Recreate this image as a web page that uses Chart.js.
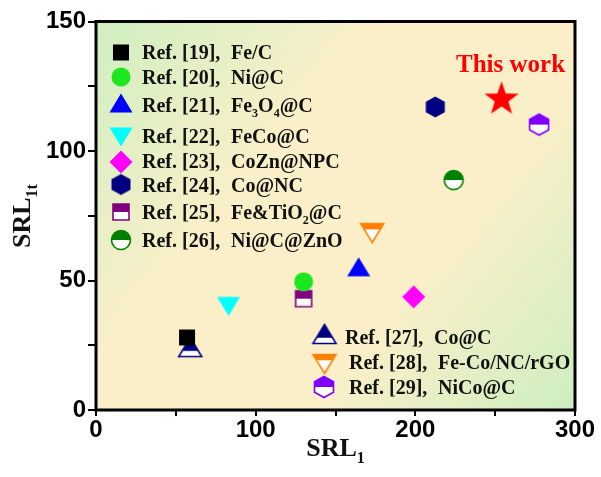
<!DOCTYPE html>
<html><head><meta charset="utf-8">
<script src="https://cdn.jsdelivr.net/npm/chart.js@4.4.1/dist/chart.umd.min.js"></script>
<style>html,body{margin:0;padding:0;background:#fff}#wrap{width:601px;height:477px}</style>
</head><body><div id="wrap"><canvas id="c" width="601" height="477"></canvas></div>
<script>
// ---- data ----
const refLabels = ['Ref. [19],','Ref. [20],','Ref. [21],','Ref. [22],','Ref. [23],','Ref. [24],','Ref. [25],','Ref. [26],','Ref. [27],','Ref. [28],','Ref. [29],','This work'];
const materials = ['Fe/C','Ni@C','Fe_{3}O_{4}@C','FeCo@C','CoZn@NPC','Co@NC','Fe&TiO_{2}@C','Ni@C@ZnO','Co@C','Fe-Co/NC/rGO','NiCo@C',''];
const srl1  = [57, 130, 164.5, 83, 199, 212.5, 130, 224, 59, 173, 277.5, 254];
const srl1t = [28, 49.5, 55.3, 40, 43.7, 117, 43, 88.8, 24.3, 68.3, 110.2, 120];
const xTickLabels = [0, 100, 200, 300];
const yTickLabels = [0, 50, 100, 150];
const xTitle = 'SRL_{1}';
const yTitle = 'SRL_{1t}';

// ---- styles ----
const colors = ['#000000','#1ee61e','#0000ff','#00ffff','#ff00ff','#000080','#800080','#008000','#000080','#ff8000','#8000ff','#ff0000'];
const shapes = ['square','circle','triUp','triDown','diamond','hexagon','square','circle','triUp','triDown','hexagon','star'];
const fills  = ['full','full','full','full','full','full','half','half','half','half','half','full'];

function markerPath(ctx, shape, cx, cy){
  ctx.beginPath();
  if(shape==='square'){ ctx.rect(cx-8,cy-8,16,16); }
  else if(shape==='circle'){ ctx.arc(cx,cy,9.5,0,Math.PI*2); }
  else if(shape==='triUp'){ ctx.moveTo(cx,cy-9.5); ctx.lineTo(cx+11.5,cy+9.5); ctx.lineTo(cx-11.5,cy+9.5); ctx.closePath(); }
  else if(shape==='triDown'){ ctx.moveTo(cx,cy+9.5); ctx.lineTo(cx+11.5,cy-9.5); ctx.lineTo(cx-11.5,cy-9.5); ctx.closePath(); }
  else if(shape==='diamond'){ ctx.moveTo(cx,cy-11.5); ctx.lineTo(cx+11.5,cy); ctx.lineTo(cx,cy+11.5); ctx.lineTo(cx-11.5,cy); ctx.closePath(); }
  else if(shape==='hexagon'){ const w=9.5,h=10.5; ctx.moveTo(cx,cy-h); ctx.lineTo(cx+w,cy-h/2); ctx.lineTo(cx+w,cy+h/2); ctx.lineTo(cx,cy+h); ctx.lineTo(cx-w,cy+h/2); ctx.lineTo(cx-w,cy-h/2); ctx.closePath(); }
  else if(shape==='star'){ const R=18, r=R*0.40; for(let i=0;i<10;i++){ const a=-Math.PI/2+i*Math.PI/5; const rr=i%2?r:R; const px=cx+rr*Math.cos(a), py=cy+rr*Math.sin(a); if(i===0) ctx.moveTo(px,py); else ctx.lineTo(px,py);} ctx.closePath(); }
}
function splitY(shape, cy){
  if(shape==='triUp') return cy + 9.5/3 + 0.5;
  if(shape==='triDown') return cy - 9.5/3 - 0.5;
  return cy;
}
function makeMarker(shape,color,fill){
  const S=44, c=document.createElement('canvas'); c.width=S; c.height=S;
  const ctx=c.getContext('2d'); const cx=S/2, cy=S/2;
  if(fill==='full'){ markerPath(ctx,shape,cx,cy); ctx.fillStyle=color; ctx.fill(); }
  else {
    markerPath(ctx,shape,cx,cy); ctx.fillStyle='#ffffff'; ctx.fill();
    ctx.save(); ctx.beginPath(); ctx.rect(0,0,S,splitY(shape,cy)); ctx.clip();
    markerPath(ctx,shape,cx,cy); ctx.fillStyle=color; ctx.fill(); ctx.restore();
    markerPath(ctx,shape,cx,cy); ctx.strokeStyle=color; ctx.lineWidth=1.6; ctx.stroke();
  }
  return c;
}
const markerImgs = shapes.map((s,i)=>makeMarker(s,colors[i],fills[i]));

// rich text with _{sub}
function parseRich(str){
  const segs=[]; let re=/_\{([^}]*)\}/g, last=0, m;
  while((m=re.exec(str))){ if(m.index>last) segs.push({t:str.slice(last,m.index),sub:false}); segs.push({t:m[1],sub:true}); last=re.lastIndex; }
  if(last<str.length) segs.push({t:str.slice(last),sub:false});
  return segs;
}
function richWidth(ctx,str,size,family){
  let w=0; for(const s of parseRich(str)){ ctx.font='bold '+(s.sub?Math.round(size*0.62):size)+'px '+family; w+=ctx.measureText(s.t).width; } return w;
}
function drawRich(ctx,str,x,y,size,family,align){
  let w=richWidth(ctx,str,size,family);
  let px = align==='center'? x-w/2 : x;
  ctx.textBaseline='alphabetic'; ctx.textAlign='left';
  for(const s of parseRich(str)){
    const fs = s.sub?Math.round(size*0.62):size;
    ctx.font='bold '+fs+'px '+family;
    ctx.fillText(s.t, px, y + (s.sub? size*0.26 : 0));
    px += ctx.measureText(s.t).width;
  }
}
const SERIF='"Liberation Serif","Times New Roman",serif';

// legend layout
const legendRows = [
  {i:0,mx:121,my:52.5,ty:52,tx:142,mtx:231},
  {i:1,mx:121,my:77,ty:77.5,tx:142,mtx:231},
  {i:2,mx:121,my:103,ty:105,tx:142,mtx:231},
  {i:3,mx:121,my:137,ty:136,tx:142,mtx:231},
  {i:4,mx:121,my:162,ty:161,tx:142,mtx:231},
  {i:5,mx:121,my:184.5,ty:185,tx:142,mtx:231},
  {i:6,mx:121,my:212,ty:212,tx:142,mtx:231},
  {i:7,mx:121,my:240,ty:240,tx:142,mtx:231},
  {i:8,mx:324.5,my:334,ty:337,tx:345,mtx:434},
  {i:9,mx:324.5,my:364,ty:362,tx:349,mtx:438},
  {i:10,mx:324,my:387,ty:387,tx:349,mtx:438}
];

const bgPlugin = {
  id:'bg',
  beforeDatasetsDraw(chart){
    const {ctx, chartArea:a} = chart;
    const g = ctx.createLinearGradient(a.left,a.top,a.right,a.bottom);
    g.addColorStop(0,'#cfefc1'); g.addColorStop(0.36,'#fbefc9'); g.addColorStop(0.66,'#fbefc9'); g.addColorStop(1,'#cdeec0');
    ctx.save(); ctx.fillStyle=g; ctx.fillRect(a.left,a.top,a.right-a.left,a.bottom-a.top); ctx.restore();
  },
  afterDraw(chart){
    const {ctx, chartArea:a, scales} = chart;
    ctx.save();
    ctx.strokeStyle='#000'; ctx.lineWidth=3; ctx.strokeRect(a.left,a.top,a.right-a.left,a.bottom-a.top);
    for(const r of legendRows){
      const img=markerImgs[r.i];
      ctx.drawImage(img, r.mx-img.width/2, r.my-img.height/2);
      ctx.fillStyle='#111';
      drawRich(ctx, refLabels[r.i], r.tx, r.ty+6.5, 20, SERIF, 'left');
      drawRich(ctx, materials[r.i], r.mtx, r.ty+6.5, 20, SERIF, 'left');
    }
    const sx = scales.x.getPixelForValue(srl1[11]), sy = scales.y.getPixelForValue(srl1t[11]);
    ctx.fillStyle='#ff0000';
    drawRich(ctx, refLabels[11], sx+9, sy-27, 25, SERIF, 'center');
    ctx.fillStyle='#111';
    drawRich(ctx, xTitle, (a.left+a.right)/2, 456, 26, SERIF, 'center');
    ctx.translate(30, 216); ctx.rotate(-Math.PI/2);
    drawRich(ctx, yTitle, 0, 0, 26, SERIF, 'center');
    ctx.restore();
  }
};

const datasets = srl1.map((x,i)=>({
  label: refLabels[i]+' '+materials[i],
  data:[{x:x,y:srl1t[i]}],
  pointStyle: markerImgs[i],
  pointRadius: 10, pointHoverRadius: 10,
  showLine:false
}));

const tickFont = {family:'"Liberation Sans", Arial, sans-serif', size:24, weight:'bold'};
new Chart(document.getElementById('c'), {
  type:'scatter',
  data:{datasets},
  plugins:[bgPlugin],
  options:{
    responsive:false, animation:false, devicePixelRatio:1,
    layout:{padding:{top:21.5,right:26,left:0,bottom:0}},
    plugins:{legend:{display:false}, tooltip:{enabled:false}},
    scales:{
      x:{type:'linear', min:0, max:300,
        afterFit(s){ s.height=67; },
        ticks:{stepSize:50, autoSkip:false, maxRotation:0, padding:0, color:'#000', font:tickFont,
          callback:(v)=> xTickLabels.includes(v)? String(v):''},
        grid:{drawOnChartArea:false, drawTicks:true, tickLength:6, color:'#000', lineWidth:2},
        border:{display:false}
      },
      y:{type:'linear', min:0, max:150,
        afterFit(s){ s.width=96; },
        ticks:{stepSize:25, autoSkip:false, padding:2, color:'#000', font:tickFont,
          callback:(v)=> yTickLabels.includes(v)? String(v):''},
        grid:{drawOnChartArea:false, drawTicks:true, tickLength:8, color:'#000', lineWidth:2},
        border:{display:false}
      }
    }
  }
});
</script></body></html>
